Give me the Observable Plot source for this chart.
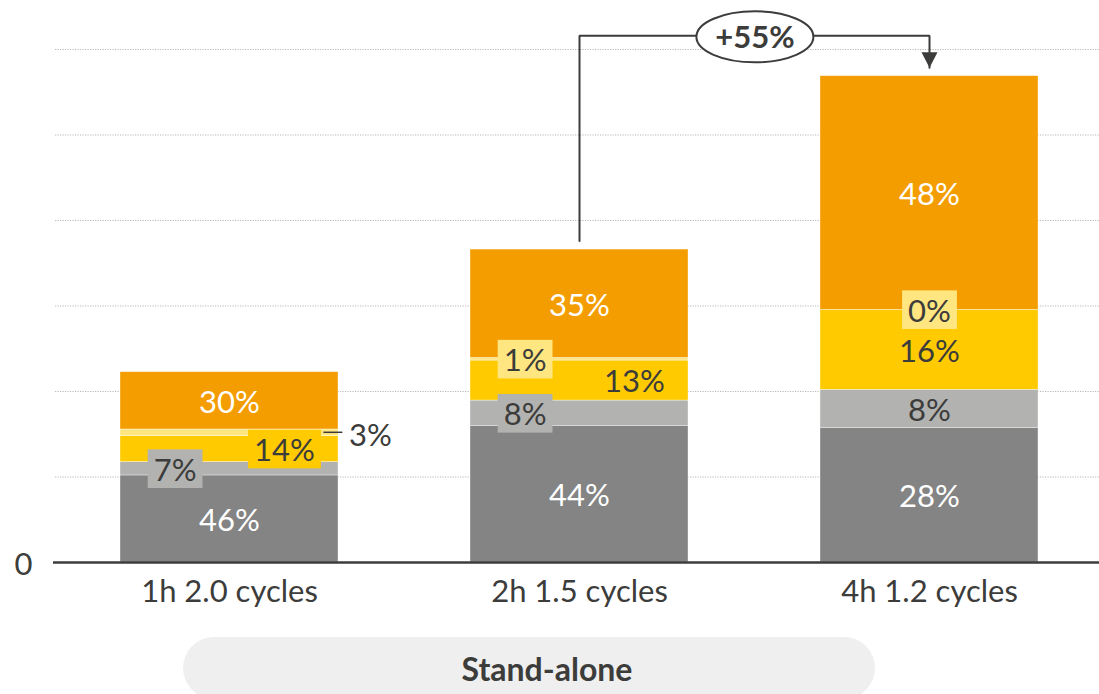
<!DOCTYPE html>
<html><head><meta charset="utf-8">
<script src="https://cdn.jsdelivr.net/npm/d3@7"></script>
<script src="https://cdn.jsdelivr.net/npm/@observablehq/plot@0.6"></script>
<style>
html,body{margin:0;padding:0;background:#fff;overflow:hidden;font-family:Lato,sans-serif;}
#chart{position:absolute;left:0;top:0;}
#pill{position:absolute;left:183px;top:637px;width:692px;height:62px;border-radius:31px;background:#efefef;color:#3c3c3b;font-family:Lato,sans-serif;font-weight:bold;font-size:32px;display:flex;align-items:center;justify-content:center;padding-left:36px;box-sizing:border-box;}
</style></head><body>
<div id="chart"></div>
<div id="pill">Stand-alone</div>
<script>
// ---- data ----
const categories = ["1h 2.0 cycles", "2h 1.5 cycles", "4h 1.2 cycles"];
const seriesNames = ["s1", "s2", "s3", "s4", "s5"]; // bottom -> top
const seriesColors = ["#848484", "#b2b2b1", "#ffcb00", "#ffe680", "#f49d00"];
const seriesTextColors = ["#ffffff", "#3c3c3b", "#3c3c3b", "#3c3c3b", "#ffffff"];
// segment values per category (bottom -> top), in gridline units
const values1h = [1.018, 0.156, 0.304, 0.078, 0.670];
const values2h = [1.594, 0.300, 0.468, 0.031, 1.267];
const values4h = [1.571, 0.449, 0.936, 0.000, 2.732];
const labels1h = ["46%", "7%", "14%", "3%", "30%"];
const labels2h = ["44%", "8%", "13%", "1%", "35%"];
const labels4h = ["28%", "8%", "16%", "0%", "48%"];
const placement1h = ["center", "left", "right", "outside", "center"];
const placement2h = ["center", "left", "right", "left", "center"];
const placement4h = ["center", "center", "center", "center", "center"];
const boxed1h = [false, true, true, false, false];
const boxed2h = [false, true, false, true, false];
const boxed4h = [false, false, false, true, false];
const gridTicks = [0, 1, 2, 3, 4, 5, 6];
const growthLabel = "+55%";
const growthFrom = 1, growthTo = 2; // category indexes
const bracketLevel = 6.16;
const bracketGap = 0.1;

const allValues = [values1h, values2h, values4h];
const allLabels = [labels1h, labels2h, labels4h];
const allPlacement = [placement1h, placement2h, placement4h];
const allBoxed = [boxed1h, boxed2h, boxed4h];

// ---- build table ----
const rows = [];
const totals = [];
categories.forEach((cat, i) => {
  let acc = 0;
  allValues[i].forEach((v, j) => {
    const y1 = acc, y2 = acc + v;
    acc = y2;
    rows.push({cat, series: seriesNames[j], y1, y2, mid: (y1 + y2) / 2,
      color: seriesColors[j], textColor: seriesTextColors[j],
      label: allLabels[i][j], place: allPlacement[i][j], boxed: allBoxed[i][j]});
  });
  totals.push(acc);
});

const bracket = [
  {x: categories[growthFrom], y: totals[growthFrom] + bracketGap},
  {x: categories[growthFrom], y: bracketLevel},
  {x: categories[growthTo], y: bracketLevel},
  {x: categories[growthTo], y: totals[growthTo] + bracketGap}
];
const arrowTip = [bracket[3]];
const growthMid = [{x: categories[growthFrom], y: bracketLevel}];

const ellipseSymbol = {
  draw(ctx) {
    const rx = 58.5, ry = 25.5, k = 0.5523;
    ctx.moveTo(rx, 0);
    ctx.bezierCurveTo(rx, ry * k, rx * k, ry, 0, ry);
    ctx.bezierCurveTo(-rx * k, ry, -rx, ry * k, -rx, 0);
    ctx.bezierCurveTo(-rx, -ry * k, -rx * k, -ry, 0, -ry);
    ctx.bezierCurveTo(rx * k, -ry, rx, -ry * k, rx, 0);
    ctx.closePath();
  }
};
const arrowSymbol = {
  draw(ctx) {
    ctx.moveTo(-8, -15.5);
    ctx.lineTo(8, -15.5);
    ctx.lineTo(0, 0);
    ctx.closePath();
  }
};

const dark = "#3c3c3b";
const FS = 31;
const sel = (p, b) => rows.filter(d => d.place === p && d.boxed === b);
const boxedGroups = {
  "boxed-left": sel("left", true),
  "boxed-right": sel("right", true),
  "boxed-center": sel("center", true)
};
const offsets = {left: -54.4, right: 55, center: 0};

const marks = [
  Plot.ruleY(gridTicks.filter(d => d > 0), {stroke: "#b8b8b8", strokeWidth: 1, strokeDasharray: "1.2,1.3", insetLeft: 2}),
  Plot.barY(rows, {x: "cat", y1: "y1", y2: "y2", fill: "color", stroke: "white", strokeWidth: 0.6, strokeOpacity: 0.6}),
  Plot.ruleY([0], {stroke: dark, strokeWidth: 2.5}),
  Plot.axisY({ticks: [0], tickSize: 0, tickPadding: 21, tickFormat: () => "0", label: null, fontSize: FS, fill: dark, dy: 3}),
  Plot.axisX({tickSize: 0, tickPadding: 17, label: null, fontSize: FS, fill: dark}),
];
// unboxed labels
for (const p of ["left", "right", "center"]) {
  marks.push(Plot.text(sel(p, false), {x: "cat", y: "mid", text: "label", fill: "textColor", dx: offsets[p], dy: 2, fontSize: FS}));
}
// boxed labels
for (const [name, data] of Object.entries(boxedGroups)) {
  const p = name.split("-")[1];
  marks.push(Plot.text(data, {x: "cat", y: "mid", text: "label", fill: "textColor", dx: offsets[p], dy: 2, fontSize: FS, ariaDescription: name}));
}
// outside label with leader
const outside = rows.filter(d => d.place === "outside");
marks.push(Plot.tickY(outside, {x: "cat", y: "mid", stroke: dark, strokeWidth: 1.5, insetLeft: 203.4, insetRight: -4.4, dy: -0.5}));
marks.push(Plot.text(outside, {x: "cat", y: "mid", text: "label", fill: dark, dx: 119.5, dy: 3, textAnchor: "start", fontSize: FS}));
// growth annotation
marks.push(Plot.line(bracket, {x: "x", y: "y", stroke: dark, strokeWidth: 2, strokeLinejoin: "miter", curve: "linear"}));
marks.push(Plot.dot(arrowTip, {x: "x", y: "y", symbol: arrowSymbol, fill: dark, stroke: null, r: 5}));
marks.push(Plot.dot(growthMid, {x: "x", y: "y", symbol: ellipseSymbol, fill: "white", stroke: dark, strokeWidth: 2, r: 5, dx: 175.4, dy: 1}));
marks.push(Plot.text(growthMid, {x: "x", y: "y", text: () => growthLabel, fill: dark, fontWeight: "bold", fontSize: FS, dx: 175.4, dy: 2}));

const chart = Plot.plot({
  width: 1099,
  height: 630,
  marginLeft: 53,
  marginRight: 0,
  marginTop: 49,
  marginBottom: 68,
  style: {fontFamily: "Lato, sans-serif", fontSize: FS + "px", color: dark, background: "white"},
  x: {type: "band", domain: categories, range: [49.1, 1110.2], paddingInner: 0.3758, paddingOuter: 0.2, axis: null},
  y: {domain: [0, 6], axis: null},
  color: {type: "identity"},
  marks
});
document.getElementById("chart").append(chart);

// background boxes behind boxed labels
for (const [name, data] of Object.entries(boxedGroups)) {
  const g = chart.querySelector(`g[aria-description="${name}"]`);
  if (!g) continue;
  const texts = g.querySelectorAll("text");
  texts.forEach((t, i) => {
    const bb = t.getBBox();
    const cy = bb.y + bb.height / 2;
    const r = document.createElementNS("http://www.w3.org/2000/svg", "rect");
    r.setAttribute("x", bb.x - 6);
    r.setAttribute("width", bb.width + 12);
    r.setAttribute("y", cy - 19.3);
    r.setAttribute("height", 38.6);
    r.setAttribute("fill", data[i].color);
    const tr = t.getAttribute("transform");
    if (tr) r.setAttribute("transform", tr);
    t.parentNode.insertBefore(r, t);
  });
}
</script>
</body></html>
